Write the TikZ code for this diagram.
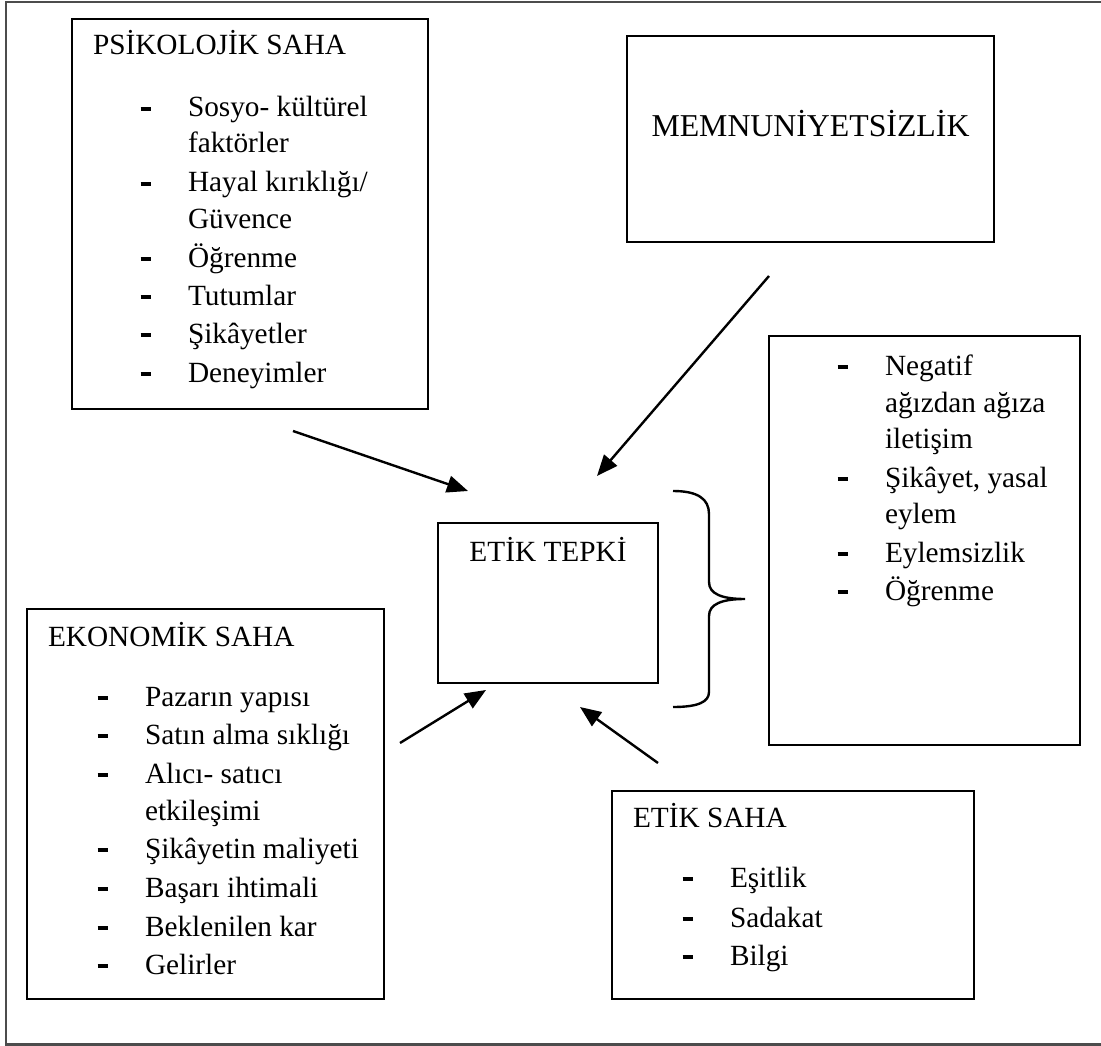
\documentclass[tikz,border=0pt]{standalone}
\usepackage{fontspec}
\setmainfont{Liberation Serif}
\usetikzlibrary{arrows.meta}

% one list entry: heavy dash, then text; and a wrapped continuation line
\newcommand\listdash{\makebox[48pt][l]{\hspace*{0.5pt}\rule[6pt]{10pt}{3.6pt}}}
\newcommand\dashline[4]{\node[txt] (#1) at (#2,#3) {\listdash#4};}
\newcommand\wrapline[4]{\node[txt] (#1) at (#2+48,#3) {#4};}

\begin{document}
\begin{tikzpicture}[x=1pt,y=-1pt,
  box/.style={draw, line width=2.4pt, inner sep=0pt, outer sep=0pt, anchor=north west},
  txt/.style={inner sep=0pt, outer sep=0pt, anchor=base west, font=\fontsize{29.3}{38}\selectfont},
  ctxt/.style={txt, anchor=base},
  flow/.style={line width=2.4pt, -{Triangle[length=21pt,width=17pt]}},
  frame/.style={line width=2.2pt, black!70},
  brace/.style={line width=2.4pt}]

\useasboundingbox (0,0) rectangle (1101,1046);

% outer frame, open on the right
\draw[frame] (1101,2) -- (6,2) -- (6,1044.5) -- (1101,1044.5);

% ---- boxes ----
\node[box, minimum width=356pt, minimum height=390pt] (psi) at (72,19) {};
\node[box, minimum width=367pt, minimum height=206pt] (mem) at (627,36) {};
\node[box, minimum width=220pt, minimum height=160pt] (tep) at (438,523) {};
\node[box, minimum width=311pt, minimum height=409pt] (res) at (769,336) {};
\node[box, minimum width=357pt, minimum height=390pt] (eko) at (27,609) {};
\node[box, minimum width=362pt, minimum height=208pt] (eti) at (612,791) {};

% ---- psychological field ----
\node[txt] (psiT) at (93,55) {PSİKOLOJİK SAHA};
\dashline{p1}{140}{117}{Sosyo- kültürel}
\wrapline{p1b}{140}{153}{faktörler}
\dashline{p2}{140}{192}{Hayal kırıklığı/}
\wrapline{p2b}{140}{228}{Güvence}
\dashline{p3}{140}{267}{Öğrenme}
\dashline{p4}{140}{305}{Tutumlar}
\dashline{p5}{140}{343}{Şikâyetler}
\dashline{p6}{140}{382}{Deneyimler}

% ---- dissatisfaction ----
\node[ctxt, font=\fontsize{31.8}{38}\selectfont] (memT) at (810.5,137) {MEMNUNİYETSİZLİK};

% ---- ethical response ----
\node[ctxt] (tepT) at (548,561) {ETİK TEPKİ};

% ---- outcomes ----
\dashline{r1}{837}{375}{Negatif}
\wrapline{r1b}{837}{412}{ağızdan ağıza}
\wrapline{r1c}{837}{448}{iletişim}
\dashline{r2}{837}{487}{Şikâyet, yasal}
\wrapline{r2b}{837}{523}{eylem}
\dashline{r3}{837}{562}{Eylemsizlik}
\dashline{r4}{837}{600}{Öğrenme}

% ---- economic field ----
\node[txt] (ekoT) at (48,646) {EKONOMİK SAHA};
\dashline{e1}{97}{706}{Pazarın yapısı}
\dashline{e2}{97}{744}{Satın alma sıklığı}
\dashline{e3}{97}{783}{Alıcı- satıcı}
\wrapline{e3b}{97}{820}{etkileşimi}
\dashline{e4}{97}{858}{Şikâyetin maliyeti}
\dashline{e5}{97}{897}{Başarı ihtimali}
\dashline{e6}{97}{936}{Beklenilen kar}
\dashline{e7}{97}{974}{Gelirler}

% ---- ethical field ----
\node[txt] (etiT) at (633,827) {ETİK SAHA};
\dashline{s1}{682}{887}{Eşitlik}
\dashline{s2}{682}{927}{Sadakat}
\dashline{s3}{682}{965}{Bilgi}

% ---- arrows towards the ethical response ----
\coordinate (a1s) at (293,431);  \coordinate (a1e) at (468,491);
\coordinate (a2s) at (769,276);  \coordinate (a2e) at (597,476);
\coordinate (a3s) at (400,743);  \coordinate (a3e) at (486,690);
\coordinate (a4s) at (658,763);  \coordinate (a4e) at (580,707);
\draw[flow] (a1s) -- (a1e);
\draw[flow] (a2s) -- (a2e);
\draw[flow] (a3s) -- (a3e);
\draw[flow] (a4s) -- (a4e);

% ---- curly brace ----
\coordinate (bt) at (673,491);
\coordinate (bb) at (673,707);
\coordinate (bm) at (745,599);
\draw[brace] (bt) .. controls (698,491) and (709,499) .. (709,514)
  -- (709,582) .. controls (709,594) and (722,599) .. (bm)
  .. controls (722,599) and (709,604) .. (709,616)
  -- (709,692) .. controls (709,702) and (698,707) .. (bb);
\end{tikzpicture}
\end{document}
